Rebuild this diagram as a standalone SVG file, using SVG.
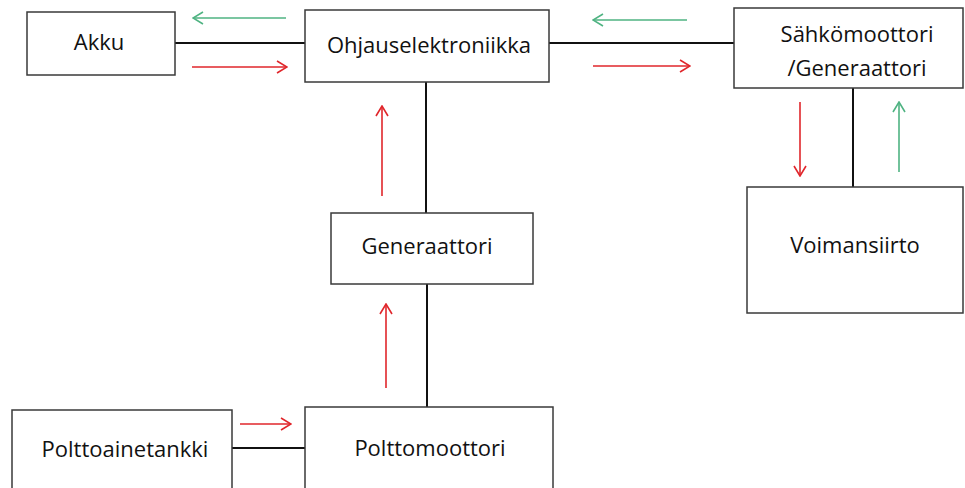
<svg xmlns="http://www.w3.org/2000/svg" width="965" height="488" viewBox="0 0 965 488">
<style>
.box{fill:#fff;stroke:#3a3a3a;stroke-width:1.5}
.lbl{font-family:"Open Sans","Liberation Sans",sans-serif;font-size:22px;fill:#111;text-anchor:middle}
.wire{stroke:#111;stroke-width:2;fill:none}
.red{stroke:#e0262b;stroke-width:1.6;fill:none}
.grn{stroke:#4fb382;stroke-width:1.6;fill:none}
</style>
<defs>
<marker id="hr" viewBox="0 0 12 14" refX="11" refY="7" markerWidth="12" markerHeight="14" markerUnits="userSpaceOnUse" orient="auto"><polyline points="1,1 11,7 1,13" fill="none" stroke="#e0262b" stroke-width="1.6"/></marker>
<marker id="hg" viewBox="0 0 12 14" refX="11" refY="7" markerWidth="12" markerHeight="14" markerUnits="userSpaceOnUse" orient="auto"><polyline points="1,1 11,7 1,13" fill="none" stroke="#4fb382" stroke-width="1.6"/></marker>
</defs>
<rect width="965" height="488" fill="#fff"/>
<g id="connectors">
<line class="wire" x1="175" y1="43" x2="305" y2="43"/>
<line class="wire" x1="549" y1="43" x2="734" y2="43"/>
<line class="wire" x1="853" y1="88" x2="853" y2="187"/>
<line class="wire" x1="426" y1="82" x2="426" y2="213"/>
<line class="wire" x1="427" y1="284" x2="427" y2="407"/>
<line class="wire" x1="232" y1="448" x2="305" y2="448"/>
<line class="grn" x1="286" y1="18" x2="193" y2="18" marker-end="url(#hg)"/>
<line class="red" x1="192" y1="67" x2="287" y2="67" marker-end="url(#hr)"/>
<line class="grn" x1="687" y1="20" x2="593" y2="20" marker-end="url(#hg)"/>
<line class="red" x1="593" y1="66" x2="690" y2="66" marker-end="url(#hr)"/>
<line class="red" x1="800" y1="102" x2="800" y2="176" marker-end="url(#hr)"/>
<line class="grn" x1="899" y1="172" x2="899" y2="102" marker-end="url(#hg)"/>
<line class="red" x1="382" y1="196" x2="382" y2="106" marker-end="url(#hr)"/>
<line class="red" x1="386" y1="388" x2="386" y2="304" marker-end="url(#hr)"/>
<line class="red" x1="240" y1="424" x2="291" y2="424" marker-end="url(#hr)"/>
</g>
<g id="akku"><rect class="box" x="27" y="12" width="148" height="63"/><text class="lbl" x="99" y="50">Akku</text></g>
<g id="ohjauselektroniikka"><rect class="box" x="305" y="10" width="244" height="72"/><text class="lbl" x="429" y="53">Ohjauselektroniikka</text></g>
<g id="sahkomoottori"><rect class="box" x="734" y="8" width="229" height="80"/><text class="lbl" x="857" y="42">Sähkömoottori</text><text class="lbl" x="857" y="76">/Generaattori</text></g>
<g id="voimansiirto"><rect class="box" x="747" y="187" width="216" height="126"/><text class="lbl" x="855" y="253">Voimansiirto</text></g>
<g id="generaattori"><rect class="box" x="331" y="213" width="202" height="71"/><text class="lbl" x="427" y="254">Generaattori</text></g>
<g id="polttoainetankki"><rect class="box" x="12" y="410" width="220" height="90"/><text class="lbl" x="125" y="457">Polttoainetankki</text></g>
<g id="polttomoottori"><rect class="box" x="305" y="407" width="248" height="95"/><text class="lbl" x="430" y="456">Polttomoottori</text></g>
</svg>
